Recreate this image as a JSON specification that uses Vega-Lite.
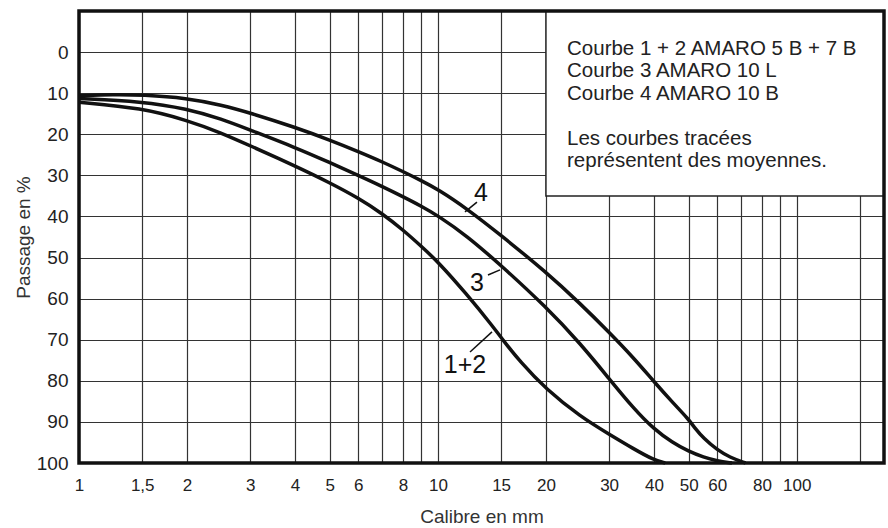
{
  "$schema": "https://vega.github.io/schema/vega-lite/v6.json",
  "width": 805,
  "height": 452,
  "autosize": {"type": "none"},
  "padding": {"left": 79, "top": 11, "right": 4, "bottom": 65},
  "background": "white",
  "config": {
    "view": {"stroke": null},
    "font": "Liberation Sans",
    "axis": {
      "grid": true,
      "gridColor": "#333333",
      "gridWidth": 1.2,
      "gridOpacity": 1,
      "ticks": false,
      "domain": false,
      "labelColor": "#222222",
      "titleColor": "#333333",
      "titleFontWeight": "normal",
      "labelFont": "Liberation Sans",
      "titleFont": "Liberation Sans"
    }
  },
  "datasets": {
    "curves": [
      {"curve": "4", "x": 1, "y": 10.6}, {"curve": "4", "x": 1.25, "y": 10.3}, {"curve": "4", "x": 1.5, "y": 10.4},
      {"curve": "4", "x": 2, "y": 11.2}, {"curve": "4", "x": 2.5, "y": 12.9}, {"curve": "4", "x": 3, "y": 14.8},
      {"curve": "4", "x": 4, "y": 18.3}, {"curve": "4", "x": 5, "y": 21.4}, {"curve": "4", "x": 6, "y": 24.2},
      {"curve": "4", "x": 7, "y": 26.7}, {"curve": "4", "x": 8, "y": 29.1}, {"curve": "4", "x": 9, "y": 31.3},
      {"curve": "4", "x": 10, "y": 33.4}, {"curve": "4", "x": 12, "y": 38.0}, {"curve": "4", "x": 15, "y": 44.6},
      {"curve": "4", "x": 20, "y": 53.5}, {"curve": "4", "x": 25, "y": 61.3}, {"curve": "4", "x": 30, "y": 68.2},
      {"curve": "4", "x": 35, "y": 74.3}, {"curve": "4", "x": 40, "y": 80.2}, {"curve": "4", "x": 45, "y": 85.2},
      {"curve": "4", "x": 50, "y": 89.4}, {"curve": "4", "x": 52, "y": 91.5}, {"curve": "4", "x": 55, "y": 94.0},
      {"curve": "4", "x": 60, "y": 96.8}, {"curve": "4", "x": 65, "y": 98.6}, {"curve": "4", "x": 72, "y": 100},
      {"curve": "3", "x": 1, "y": 11.3}, {"curve": "3", "x": 1.5, "y": 12.0}, {"curve": "3", "x": 2, "y": 13.8},
      {"curve": "3", "x": 2.5, "y": 16.3}, {"curve": "3", "x": 3, "y": 19.0}, {"curve": "3", "x": 4, "y": 23.2},
      {"curve": "3", "x": 5, "y": 26.9}, {"curve": "3", "x": 6, "y": 30.0}, {"curve": "3", "x": 7, "y": 32.7},
      {"curve": "3", "x": 8, "y": 35.2}, {"curve": "3", "x": 9, "y": 37.5}, {"curve": "3", "x": 10, "y": 39.8},
      {"curve": "3", "x": 12, "y": 44.6}, {"curve": "3", "x": 15, "y": 51.9}, {"curve": "3", "x": 20, "y": 62.0},
      {"curve": "3", "x": 25, "y": 71.0}, {"curve": "3", "x": 30, "y": 79.5}, {"curve": "3", "x": 35, "y": 86.6},
      {"curve": "3", "x": 40, "y": 91.8}, {"curve": "3", "x": 45, "y": 95.0}, {"curve": "3", "x": 50, "y": 97.2},
      {"curve": "3", "x": 55, "y": 98.6}, {"curve": "3", "x": 60, "y": 99.5}, {"curve": "3", "x": 66, "y": 100},
      {"curve": "1+2", "x": 1, "y": 12.2}, {"curve": "1+2", "x": 1.5, "y": 13.6}, {"curve": "1+2", "x": 2, "y": 16.6},
      {"curve": "1+2", "x": 2.5, "y": 19.7}, {"curve": "1+2", "x": 3, "y": 22.8}, {"curve": "1+2", "x": 4, "y": 27.7},
      {"curve": "1+2", "x": 5, "y": 31.8}, {"curve": "1+2", "x": 6, "y": 35.5}, {"curve": "1+2", "x": 7, "y": 39.3},
      {"curve": "1+2", "x": 8, "y": 43.3}, {"curve": "1+2", "x": 9, "y": 47.3}, {"curve": "1+2", "x": 10, "y": 51.0},
      {"curve": "1+2", "x": 12, "y": 58.8}, {"curve": "1+2", "x": 14.3, "y": 67.0}, {"curve": "1+2", "x": 15, "y": 69.5},
      {"curve": "1+2", "x": 17, "y": 75.5}, {"curve": "1+2", "x": 20, "y": 82.0}, {"curve": "1+2", "x": 25, "y": 88.8},
      {"curve": "1+2", "x": 30, "y": 93.0}, {"curve": "1+2", "x": 35, "y": 96.5}, {"curve": "1+2", "x": 40, "y": 99.3},
      {"curve": "1+2", "x": 43, "y": 100}
    ],
    "box": [{"x": 20, "x2": 175, "y": -10, "y2": 35}],
    "frame": [{"x": 1, "x2": 175, "y": -10, "y2": 100}],
    "notes": [
      {"text": "Courbe 1 + 2 AMARO 5 B + 7 B", "x": 22.9, "y": 0.7},
      {"text": "Courbe 3 AMARO 10 L", "x": 22.9, "y": 6.1},
      {"text": "Courbe 4 AMARO 10 B", "x": 22.9, "y": 11.6},
      {"text": "Les courbes tracées", "x": 22.9, "y": 22.6},
      {"text": "représentent des moyennes.", "x": 22.9, "y": 27.9}
    ],
    "labels": [
      {"text": "4", "x": 13.18, "y": 34.3},
      {"text": "3", "x": 12.84, "y": 56.2},
      {"text": "1+2", "x": 11.9, "y": 76.2}
    ],
    "pointers": [
      {"x": 11.9, "y": 38.9, "x2": 12.85, "y2": 36.5},
      {"x": 13.79, "y": 54.25, "x2": 14.9, "y2": 53.0},
      {"x": 12.29, "y": 73, "x2": 14.15, "y2": 68.1}
    ]
  },
  "layer": [
    {
      "data": {"name": "box"},
      "mark": {"type": "rect", "fill": "white", "stroke": "#222222", "strokeWidth": 1.5},
      "encoding": {
        "x": {
          "field": "x", "type": "quantitative",
          "scale": {"type": "log", "domain": [1, 175], "nice": false},
          "axis": {
            "values": [1, 1.5, 2, 3, 4, 5, 6, 7, 8, 9, 10, 15, 20, 30, 40, 50, 60, 70, 80, 90, 100, 150],
            "labelExpr": "indexof([7, 9, 70, 90, 150], datum.value) >= 0 ? '' : replace(toString(datum.value), '.', ',')",
            "labelFontSize": 17,
            "labelPadding": 14,
            "labelFlush": false,
            "labelOverlap": false,
            "title": "Calibre en mm",
            "titleFontSize": 19,
            "titlePadding": 14
          }
        },
        "x2": {"field": "x2"},
        "y": {
          "field": "y", "type": "quantitative",
          "scale": {"domain": [-10, 100], "reverse": true, "nice": false, "zero": false},
          "axis": {
            "values": [0, 10, 20, 30, 40, 50, 60, 70, 80, 90, 100],
            "labelFontSize": 19,
            "labelPadding": 11,
            "title": "Passage en %",
            "titleFontSize": 19,
            "titlePadding": 3
          }
        },
        "y2": {"field": "y2"}
      }
    },
    {
      "data": {"name": "curves"},
      "mark": {"type": "line", "stroke": "#111111", "strokeWidth": 3.5, "interpolate": "basis"},
      "encoding": {
        "x": {"field": "x", "type": "quantitative"},
        "y": {"field": "y", "type": "quantitative"},
        "detail": {"field": "curve"}
      }
    },
    {
      "data": {"name": "pointers"},
      "mark": {"type": "rule", "stroke": "#111111", "strokeWidth": 1.5},
      "encoding": {
        "x": {"field": "x", "type": "quantitative"},
        "x2": {"field": "x2"},
        "y": {"field": "y", "type": "quantitative"},
        "y2": {"field": "y2"}
      }
    },
    {
      "data": {"name": "labels"},
      "mark": {"type": "text", "fontSize": 25, "align": "center", "baseline": "middle", "fill": "#111111", "font": "Liberation Sans"},
      "encoding": {
        "x": {"field": "x", "type": "quantitative"},
        "y": {"field": "y", "type": "quantitative"},
        "text": {"field": "text"}
      }
    },
    {
      "data": {"name": "notes"},
      "mark": {"type": "text", "fontSize": 20.5, "align": "left", "baseline": "alphabetic", "fill": "#222222", "font": "Liberation Sans"},
      "encoding": {
        "x": {"field": "x", "type": "quantitative"},
        "y": {"field": "y", "type": "quantitative"},
        "text": {"field": "text"}
      }
    },
    {
      "data": {"name": "frame"},
      "mark": {"type": "rect", "fill": null, "stroke": "#111111", "strokeWidth": 3.5},
      "encoding": {
        "x": {"field": "x", "type": "quantitative"},
        "x2": {"field": "x2"},
        "y": {"field": "y", "type": "quantitative"},
        "y2": {"field": "y2"}
      }
    }
  ]
}
